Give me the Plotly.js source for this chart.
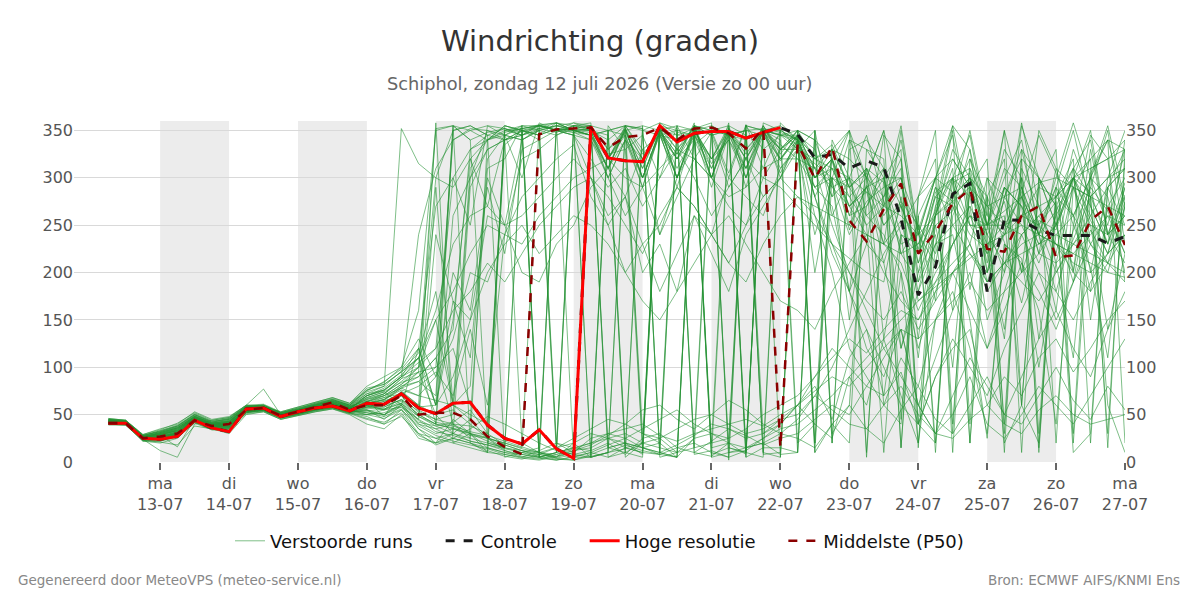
<!DOCTYPE html>
<html>
<head>
<meta charset="utf-8">
<script src="https://cdn.plot.ly/plotly-3.0.1.min.js"></script>
<style>
  html, body { margin: 0; padding: 0; background: #ffffff; }
  #chart { width: 1200px; height: 600px; }
</style>
</head>
<body>
<div id="chart"></div>
<script>
// Wind direction forecast (degrees), 6-hourly from zo 12-07 06:00 up to ma 27-07 00:00.
const runStart = Date.UTC(2026, 6, 12, 6);
const stepHours = 6;
const stepCount = 60;

// Day labels along the time axis
const dayNames  = ['ma','di','wo','do','vr','za','zo','ma','di','wo','do','vr','za','zo','ma'];
const dayDates  = ['13-07','14-07','15-07','16-07','17-07','18-07','19-07','20-07','21-07','22-07','23-07','24-07','25-07','26-07','27-07'];
const dayStamps = ['2026-07-13','2026-07-14','2026-07-15','2026-07-16','2026-07-17','2026-07-18','2026-07-19','2026-07-20','2026-07-21','2026-07-22','2026-07-23','2026-07-24','2026-07-25','2026-07-26','2026-07-27'];
const shadedDays = ['2026-07-13','2026-07-15','2026-07-17','2026-07-19','2026-07-21','2026-07-23','2026-07-25'];

// High resolution run (first 10 days)
const hoogResolutie = [41,41,25,24,27,44,36,32,56,57,48,53,57,59,54,62,61,72,57,51,62,63,39,25,19,34,14,4,354,321,318,317,355,338,347,349,349,342,348,353];

// Control run
const controle = [41,41,25,24,27,44,36,32,56,57,48,53,57,59,54,62,61,72,57,51,62,63,39,25,19,34,14,4,354,321,318,317,355,338,347,349,349,342,348,353,
                  346,321,325,310,318,311,257,176,206,283,294,180,256,255,245,239,239,239,231,238];

// Ensemble median
const mediaan = [41,41,25,27,30,44,38,40,55,57,49,53,58,63,55,60,60,70,50,52,52,45,27,16,8,346,351,352,353,332,343,345,353,340,352,353,347,331,352,15,
                 336,299,333,255,233,267,294,220,243,273,288,225,222,260,270,216,218,255,270,229];

// Perturbed ensemble members
const verstoordeRuns = [
  [44,42,27,30,35,46,40,42,57,58,50,55,60,64,58, 66,70,78,95,352,355,340,348,352,345,356,350,358, 350,325,330,12,355,300,335,350,305,356,310,350, 340,280,318,245,292,210,272,130,262,300,182,280,232,168,250,290,202,330,240,282],
  [40,40,23,22,28,43,36,35,53,55,47,51,55,58,52, 58,62,70,52,45,40,38,30,18,12,6,3,2, 8,15,20,15,8,350,10,6,20,356,30,40, 60,40,25,90,60,130,70,20,150,180,120,30,230,210,160,40,250,205,110,275],
  [43,41,26,28,34,48,40,40,56,57,50,54,58,62,56, 60,66,80,85,70,355,350,340,345,352,356,358,350, 345,310,340,300,350,325,355,300,358,10,5,352, 330,350,260,300,230,345,320,190,270,355,330,250,290,200,350,310,250,345,320,190],
  [41,40,24,25,29,44,37,37,54,56,48,52,56,59,54, 52,50,62,40,30,35,28,25,20,14,10,6,10, 25,30,35,40,28,22,30,35,40,45,38,50, 60,80,45,110,140,70,200,20,230,240,150,25,230,215,100,210,290,250,140,220],
  [42,41,25,27,31,45,38,39,55,57,49,53,57,60,56, 70,75,90,120,60,170,110,300,250,340,350,355,352, 350,300,340,290,350,320,348,290,345,310,350,335, 320,290,270,180,230,210,120,180,260,280,300,210,290,270,130,240,260,180,300,310],
  [45,43,28,32,38,50,42,45,58,60,52,56,61,66,60, 72,80,352,315,300,290,320,340,355,350,345,358,5, 5,10,355,350,358,352,15,20,355,345,10,358, 340,300,320,260,270,300,240,230,280,270,230,300,250,280,220,250,290,230,200,270],
  [39,39,22,20,25,42,34,33,52,54,46,50,54,57,51, 50,55,58,45,240,170,150,260,250,200,190,230,250, 290,310,280,330,240,300,355,345,290,320,300,290, 270,250,230,215,200,190,280,170,185,200,215,230,240,250,240,230,220,210,200,195],
  [43,42,26,29,33,47,39,41,56,58,50,54,59,62,57, 62,68,72,80,95,70,140,60,240,320,330,345,355, 358,5,10,355,350,345,352,358,2,355,350,345, 330,290,310,270,290,250,270,220,290,250,220,200,280,250,210,260,300,270,230,280],
  [42,40,24,12,5,40,44,47,60,77,50,52,58,63,55, 65,48,75,60,358,20,30,10,345,340,350,15,20, 5,350,345,30,20,355,350,348,15,10,350,350, 20,40,330,320,300,60,40,260,10,280,300,240,20,60,300,250,330,280,60,10],
  [46,44,29,35,40,53,45,48,60,58,53,58,63,68,62, 75,85,98,120,270,300,250,355,345,300,358,350,345, 340,300,260,290,240,280,320,300,270,250,300,330, 330,240,300,180,310,130,240,110,250,160,310,230,140,280,240,160,300,200,290,250],
  [41,41,25,24,27,44,36,34,52,55,47,50,55,58,53, 55,45,60,35,20,45,30,15,10,8,5,355,350, 345,350,355,352,10,348,345,350,355,5,358,350, 340,290,300,350,260,280,355,240,210,300,345,250,250,358,270,220,310,340,240,260],
  [44,43,27,31,36,48,41,44,58,59,51,55,60,65,59, 64,72,85,100,300,350,355,345,340,350,352,348,355, 352,320,348,310,355,330,350,300,352,325,350,318, 345,300,320,250,290,300,220,250,170,295,305,200,280,330,250,275,200,305,340,270],
  [40,39,23,21,18,38,35,30,50,53,45,49,53,56,50, 40,35,50,25,20,30,45,25,12,8,5,10,15, 12,20,8,25,30,15,10,22,35,28,18,25, 30,45,60,50,80,70,95,40,90,120,140,60,90,70,110,130,95,120,150,170],
  [43,42,26,30,34,47,39,43,57,57,50,54,59,63,58, 68,74,60,120,60,355,340,20,15,355,5,358,350, 350,15,20,8,345,350,352,5,10,12,350,355, 340,10,330,350,300,350,45,280,320,10,300,260,350,60,290,330,20,280,300,350],
  [42,40,25,26,30,44,37,38,54,56,48,52,56,59,54, 56,58,66,50,40,35,30,25,20,15,355,352,350, 348,310,352,300,350,325,355,300,348,320,350,330, 345,330,280,340,300,230,350,220,260,330,300,250,200,355,300,250,190,290,350,230],
  [45,44,28,33,39,51,43,46,59,60,52,57,62,67,61, 78,82,95,110,60,150,320,270,340,345,355,350,352, 350,320,355,330,345,300,352,320,350,290,352,330, 350,300,330,260,310,295,220,230,265,320,290,240,275,200,255,245,300,285,230,290],
  [41,40,24,23,27,43,35,36,53,55,47,51,55,57,52, 48,40,55,30,25,20,15,10,8,5,12,20,15, 20,30,25,15,10,18,28,40,35,25,30,45, 50,70,55,40,35,60,80,50,30,25,45,60,40,30,55,70,50,40,45,50],
  [43,41,27,29,33,46,40,41,56,57,49,53,58,61,57, 63,70,82,100,150,180,220,250,240,230,260,280,300, 310,320,300,290,310,330,320,300,280,290,310,320, 320,310,295,240,275,290,300,200,285,300,310,270,280,290,220,310,290,280,300,320],
  [42,42,25,28,16,45,39,40,55,57,49,54,57,60,55, 60,55,70,48,290,60,45,310,320,355,10,5,10, 355,350,10,20,358,345,345,15,20,8,350,340, 10,350,20,330,340,310,15,260,300,30,320,280,10,330,300,20,290,320,15,330],
  [44,43,26,31,37,49,41,43,57,58,51,55,60,64,58, 70,78,92,110,40,260,300,330,340,350,345,352,348, 345,300,340,320,348,290,350,320,340,300,355,320, 340,200,300,150,270,310,120,200,240,100,290,220,130,310,270,210,110,300,280,200],
  [40,40,23,24,29,42,37,37,53,54,47,51,55,58,53, 50,52,60,42,38,30,25,20,15,12,8,5,20, 30,25,20,15,10,5,355,350,345,350,352,348, 340,325,280,300,250,270,300,210,250,265,330,200,240,290,240,180,245,290,265,220],
  [43,42,26,29,34,47,40,42,57,58,50,54,58,62,57, 67,72,88,95,100,340,350,355,352,345,350,355,358, 355,330,352,300,348,320,358,5,352,310,348,330, 350,340,290,300,345,275,230,240,300,355,260,250,300,340,240,300,358,300,250,330],
  [41,41,25,26,31,45,38,39,55,56,48,52,57,60,55, 58,64,72,55,45,50,300,350,340,20,10,15,355, 5,350,355,352,10,5,25,355,345,350,8,10, 350,20,340,300,10,280,320,40,270,300,20,250,330,300,15,270,310,280,30,320],
  [46,44,29,34,41,52,44,47,60,61,53,58,63,68,62, 80,90,100,130,90,200,160,290,220,330,340,350,345, 300,260,280,230,250,290,270,240,300,280,260,310, 335,300,310,270,285,230,255,180,230,300,280,190,245,300,250,200,235,280,240,210],
  [42,41,24,25,29,44,37,38,54,56,48,52,56,59,54, 55,50,58,40,35,25,20,15,10,5,3,8,12, 15,25,30,20,15,10,25,30,20,15,25,35, 40,55,70,90,110,130,150,170,190,210,230,180,210,220,230,240,230,220,210,200],
  [43,42,26,27,32,46,39,40,56,57,49,53,58,61,56, 62,66,76,70,90,130,200,190,240,280,300,320,335, 280,250,200,230,180,220,260,240,210,190,230,260, 280,270,260,250,240,230,220,190,230,250,270,230,250,260,270,280,300,310,320,330],
  [40,39,22,22,26,41,34,35,51,53,45,49,53,56,51, 45,40,48,30,18,25,20,12,6,3,8,15,25, 35,45,40,30,25,35,45,50,40,30,35,45, 60,75,90,80,100,120,140,130,150,170,190,160,180,200,220,210,230,250,240,260],
  [44,43,27,30,36,48,41,43,58,58,51,55,60,64,59, 72,76,90,240,310,340,352,350,345,340,352,358,355, 350,310,352,320,355,300,345,310,350,330,352,300, 340,260,200,120,90,60,110,80,150,200,160,120,180,240,200,150,190,245,210,270],
  [41,40,24,26,30,44,37,38,54,55,48,52,56,59,54, 57,60,65,50,40,350,355,345,5,10,15,350,355, 355,15,10,5,352,340,345,8,15,10,350,345, 350,10,40,20,330,300,300,250,20,280,320,250,260,60,20,280,310,150,270,300],
  [45,43,28,33,38,50,42,46,59,60,52,56,62,66,60, 76,82,95,110,150,60,80,320,345,355,350,345,352, 355,330,345,290,348,310,345,320,355,300,345,320, 345,280,220,180,140,100,60,40,90,130,100,70,120,160,200,180,150,190,220,240],
  [42,41,25,27,31,45,38,39,55,57,49,53,57,61,56, 60,55,62,45,35,40,30,22,15,10,5,2,5, 10,5,15,20,350,355,8,12,5,355,350,345, 340,300,320,280,300,350,275,250,220,280,350,260,240,285,345,305,260,300,355,275],
  [43,42,26,29,35,47,40,42,57,58,50,54,59,63,57, 68,74,84,90,110,140,330,345,352,348,355,350,345, 320,290,310,270,300,330,300,260,290,320,280,300, 345,310,330,290,305,250,275,210,280,300,250,220,290,270,230,250,300,260,220,290],
  [40,40,24,24,28,43,36,36,53,55,47,51,55,58,52, 54,56,64,48,38,42,55,30,350,355,355,20,10, 350,340,355,15,20,5,352,345,350,5,15,15, 10,350,20,340,330,320,15,280,350,40,290,320,30,300,10,280,320,20,290,310],
  [44,42,27,31,36,48,41,44,58,59,51,55,60,65,59, 70,76,90,105,120,160,180,210,190,220,250,270,290, 300,250,280,200,230,180,260,220,180,240,270,300, 330,320,310,300,285,270,260,240,260,275,290,250,265,280,295,300,290,280,270,260],
  [42,41,25,26,30,45,38,38,55,56,49,53,57,60,55, 62,65,78,85,100,120,60,40,335,350,355,358,350, 352,320,350,310,352,330,355,300,348,320,355,325, 350,320,335,290,310,270,340,240,300,285,250,245,350,280,240,265,300,350,240,295],
  [41,40,24,25,30,44,37,37,54,56,48,52,56,60,54, 52,48,56,35,25,30,22,18,12,6,4,2,6, 10,18,25,35,45,55,40,30,25,35,50,60, 70,90,110,130,115,140,160,150,180,200,220,190,210,230,240,230,220,240,260,250],
  [45,44,28,32,38,50,43,45,59,60,52,57,61,66,60, 74,80,96,115,180,60,310,340,355,350,345,352,350, 345,310,355,325,345,300,350,320,352,300,350,320, 345,310,250,200,160,120,90,60,30,70,110,80,50,90,130,160,120,90,140,180],
  [42,41,26,28,33,46,39,40,56,57,49,54,58,62,56, 59,62,74,60,50,55,40,25,15,350,340,10,15, 350,345,5,20,25,10,355,345,350,15,20,8, 10,340,320,350,5,300,330,15,260,310,20,280,320,10,300,270,30,310,320,340],
  [43,41,25,27,32,45,38,40,55,57,49,53,57,61,56, 61,58,66,54,42,38,32,28,22,16,10,4,8, 12,355,330,345,300,355,320,348,300,355,330,345, 345,320,330,290,310,260,290,245,300,345,250,250,310,290,240,290,350,270,230,340],
  [41,41,24,25,29,44,36,37,54,55,48,52,56,59,54, 64,70,82,95,50,30,290,330,340,345,352,355,350, 345,320,352,300,345,320,355,310,345,330,348,305, 340,300,320,270,290,310,270,225,290,275,240,225,290,270,230,250,300,255,220,275],
  [42,40,25,27,30,44,38,39,54,56,48,53,56,60,55, 50,46,55,38,28,22,18,14,8,4,2,6,12, 18,28,40,55,60,45,35,50,65,55,40,30, 25,15,40,60,35,20,55,80,45,30,60,90,50,40,70,100,65,45,80,55],
  [44,42,26,30,35,47,40,42,57,58,50,55,59,63,57, 66,72,88,110,160,230,260,270,250,260,280,300,320, 300,280,250,220,260,290,270,240,210,250,280,300, 280,260,230,200,170,150,180,140,170,200,230,190,210,240,260,230,200,180,210,240],
  [41,40,24,24,28,43,36,36,53,55,47,51,55,58,53, 54,50,60,44,32,28,22,18,14,10,8,4,2, 6,10,14,350,345,340,350,355,345,340,350,346, 335,310,290,270,240,230,210,160,200,230,260,220,240,260,250,230,210,200,220,240],
  [43,42,27,29,33,46,39,41,56,57,49,54,58,62,56, 70,76,90,100,120,300,330,340,348,352,355,350,352, 355,320,345,300,350,320,340,300,352,320,350,310, 330,315,300,290,260,240,200,120,180,230,270,150,200,260,290,280,260,230,210,190],
  [40,40,23,23,27,42,35,35,52,54,46,50,54,57,52, 46,42,52,28,20,25,35,48,40,30,20,12,8, 5,10,18,12,8,15,20,10,5,12,25,40, 60,90,120,100,80,110,140,60,30,50,90,40,25,50,80,60,40,70,100,130],
  [45,43,28,32,37,49,42,45,59,59,52,56,61,65,60, 76,84,100,160,350,355,20,10,355,350,5,10,350, 345,350,15,10,355,350,345,20,25,350,345,5, 345,20,300,280,250,10,240,220,260,350,40,300,280,320,30,290,260,300,340,20],
  [42,41,25,26,31,45,38,39,55,56,49,53,57,60,55, 60,64,72,58,60,90,150,200,230,250,220,240,260, 250,230,200,170,150,180,210,240,260,230,200,170, 160,140,180,210,240,200,170,150,190,230,260,240,210,190,170,200,230,260,290,310],
  [43,41,26,28,32,46,39,40,56,57,49,54,58,61,56, 58,56,62,48,40,36,30,26,18,12,10,8,14, 20,25,15,10,8,5,355,350,10,15,20,30, 45,70,100,140,180,220,250,280,300,320,290,270,250,240,260,280,300,320,340,330],
  [41,41,24,25,29,44,37,37,54,55,48,52,56,59,54, 64,68,80,90,110,40,25,340,350,352,355,350,348, 340,310,350,320,352,300,350,315,340,310,355,330, 345,280,230,180,120,90,140,60,110,160,200,120,160,210,180,140,190,230,260,220],
  [44,43,27,31,36,48,41,43,58,58,51,55,60,64,58, 62,66,78,70,65,60,50,40,350,345,5,10,355, 5,10,350,355,5,10,15,350,345,350,10,5, 350,340,30,60,300,280,310,40,20,260,300,280,40,320,300,270,10,30,290,330]
];

// Time stamps of the forecast steps
const times = [];
for (let i = 0; i < stepCount; i++) {
  const d = new Date(runStart + i * stepHours * 3600 * 1000);
  times.push(d.toISOString().slice(0, 16).replace('T', ' '));
}

const font = 'DejaVu Sans, Verdana, sans-serif';
const pad = '\u00a0\u00a0\u00a0\u00a0';
const traces = [];

verstoordeRuns.forEach((run, k) => {
  traces.push({
    x: times.slice(0, run.length), y: run,
    type: 'scatter', mode: 'lines',
    name: 'Verstoorde runs' + pad, legendgroup: 'ens', showlegend: k === 0,
    line: { color: 'rgba(34,145,50,0.58)', width: 1 },
    hoverinfo: 'skip'
  });
});

traces.push({
  x: times.slice(0, controle.length), y: controle,
  type: 'scatter', mode: 'lines', name: 'Controle' + pad,
  line: { color: '#1a1a1a', width: 3, dash: 'dash' }
});
traces.push({
  x: times.slice(0, hoogResolutie.length), y: hoogResolutie,
  type: 'scatter', mode: 'lines', name: 'Hoge resolutie' + pad,
  line: { color: '#ff0000', width: 3 }
});
traces.push({
  x: times.slice(0, mediaan.length), y: mediaan,
  type: 'scatter', mode: 'lines', name: 'Middelste (P50)',
  line: { color: '#8b0000', width: 2.5, dash: 'dash' }
});

// Invisible helper so the right-hand axis gets drawn
traces.push({
  x: [times[0]], y: [0], yaxis: 'y2', type: 'scatter', mode: 'markers',
  marker: { opacity: 0 }, showlegend: false, hoverinfo: 'skip'
});

const shapes = shadedDays.map(day => {
  const start = new Date(day + 'T00:00:00Z');
  const end = new Date(start.getTime() + 24 * 3600 * 1000);
  return {
    type: 'rect', xref: 'x', yref: 'paper',
    x0: day + ' 00:00', x1: end.toISOString().slice(0, 10) + ' 00:00',
    y0: 0, y1: 1, fillcolor: '#ececec', line: { width: 0 }, layer: 'below'
  };
});

const yTicks = [0, 50, 100, 150, 200, 250, 300, 350];

const layout = {
  width: 1200, height: 600,
  paper_bgcolor: '#ffffff', plot_bgcolor: '#ffffff',
  margin: { l: 74, r: 75, t: 121, b: 138 },
  font: { family: font, color: '#444' },
  title: {
    text: 'Windrichting (graden)',
    font: { family: font, size: 29, color: '#333333' },
    x: 0.5, xanchor: 'center', y: 0.932, yanchor: 'middle', yref: 'container'
  },
  xaxis: {
    type: 'date',
    range: ['2026-07-11 18:00', '2026-07-27 00:00'],
    tickvals: dayStamps.map(s => s + ' 00:00'),
    ticktext: dayNames.map((n, i) => n + '<br>' + dayDates[i]),
    ticks: 'outside', ticklen: 7, tickwidth: 2, tickcolor: '#666',
    showgrid: false, zeroline: false, showline: false,
    tickfont: { family: font, size: 16, color: '#555' }
  },
  yaxis: {
    range: [0, 360], tickvals: yTicks,
    showgrid: true, gridcolor: '#d9d9d9', gridwidth: 1,
    zeroline: false, showline: false, ticks: '',
    tickfont: { family: font, size: 16, color: '#555' }
  },
  yaxis2: {
    range: [0, 360], tickvals: yTicks, overlaying: 'y', side: 'right',
    showgrid: false, zeroline: false, showline: false, ticks: '',
    tickfont: { family: font, size: 16, color: '#555' }
  },
  shapes: shapes,
  showlegend: true,
  legend: {
    orientation: 'h', x: 0.5, xanchor: 'center', y: -0.232, yanchor: 'middle',
    font: { family: font, size: 18, color: '#111' }, bgcolor: 'rgba(0,0,0,0)'
  },
  annotations: [
    {
      text: 'Schiphol, zondag 12 juli 2026 (Versie zo 00 uur)',
      xref: 'paper', yref: 'paper', x: 0.5, y: 1.1085, xanchor: 'center', yanchor: 'middle',
      showarrow: false, font: { family: font, size: 17.75, color: '#666' }
    },
    {
      text: 'Gegenereerd door MeteoVPS (meteo-service.nl)',
      xref: 'paper', yref: 'paper', x: -0.0555, y: -0.346, xanchor: 'left', yanchor: 'middle',
      showarrow: false, font: { family: font, size: 13.5, color: '#888' }
    },
    {
      text: 'Bron: ECMWF AIFS/KNMI Ens',
      xref: 'paper', yref: 'paper', x: 1.0542, y: -0.346, xanchor: 'right', yanchor: 'middle',
      showarrow: false, font: { family: font, size: 13.5, color: '#888' }
    }
  ],
  hovermode: false
};

Plotly.newPlot('chart', traces, layout, { displayModeBar: false, staticPlot: true });
</script>
</body>
</html>
